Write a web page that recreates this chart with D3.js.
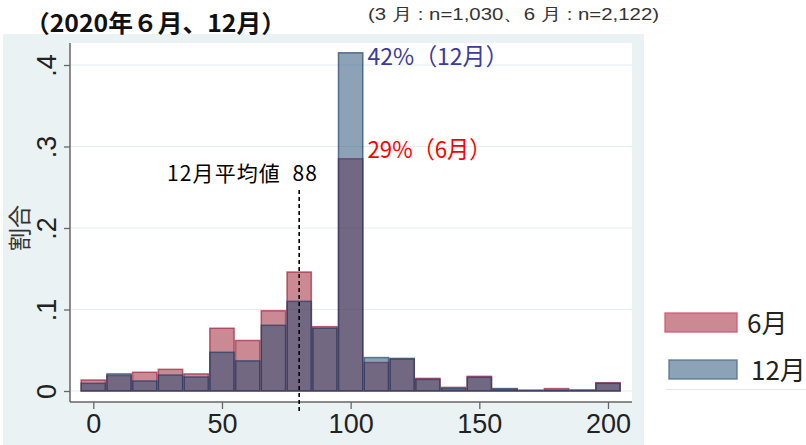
<!DOCTYPE html>
<html><head><meta charset="utf-8">
<script src="https://cdn.jsdelivr.net/npm/d3@7"></script>
<style>body{margin:0;background:#fff}svg{display:block}</style>
</head><body>
<svg id="c" width="806" height="445"></svg>
<script>
const binCenters = [0,10,20,30,40,50,60,70,80,90,100,110,120,130,140,150,160,170,180,190,200];
const binWidth = 10;
const june = [0.0135,0.019,0.023,0.0266,0.021,0.077,0.062,0.0985,0.146,0.079,0.285,0.035,0.039,0.0155,0.0045,0.018,0.002,0.0005,0.003,0.0008,0.0102];
const december = [0.0094,0.021,0.0123,0.0196,0.0172,0.0475,0.037,0.0806,0.11,0.077,0.415,0.041,0.040,0.0143,0.003,0.0168,0.003,0.001,0.001,0.0012,0.0094];
const xTicks = [0,50,100,150,200];
const yTicks = [0,0.1,0.2,0.3,0.4];
const yTickLabels = ["0",".1",".2",".3",".4"];
const seriesNames = ["6月","12月"];
const meanValue = 80;
const meanLabel = "12月平均値  88";
const peakLabels = ["42%（12月）","29%（6月）"];
const title = "（2020年６月、12月）";
const subtitle = "(3 月 : n=1,030、6 月 : n=2,122)";
const yTitle = "割合";

const svg = d3.select("#c");
const x = d3.scaleLinear().domain([0,200]).range([93.3,608]);
const y = d3.scaleLinear().domain([0,0.4]).range([391,65]);
const redFill = "rgba(150,20,40,0.5)", redStroke = "rgba(150,15,45,0.6)";
const blueFill = "rgba(26,71,111,0.5)", blueStroke = "rgba(26,60,100,0.65)";
const cjk = "'Noto Sans CJK JP','Noto Sans',sans-serif";
const lat = "'Liberation Sans',Arial,sans-serif";

// panel background
svg.append("rect").attr("x",3).attr("y",34).attr("width",641).attr("height",411).attr("fill","#eaf2f4");
// plot region
svg.append("rect").attr("x",70).attr("y",43).attr("width",562).attr("height",359).attr("fill","#fff");

// grid
svg.append("g").selectAll("line").data(yTicks).join("line")
  .attr("x1",71).attr("x2",632).attr("y1",d=>y(d)).attr("y2",d=>y(d))
  .attr("stroke","#e3eef2").attr("stroke-width",1.2);

// bars
function drawBars(vals, fill, stroke){
  svg.append("g").selectAll("rect").data(binCenters).join("rect")
    .attr("x",(d)=>x(d-binWidth/2)+0.7)
    .attr("width",(d)=>x(d+binWidth/2)-x(d-binWidth/2)-1.4)
    .attr("y",(d,i)=>y(vals[i]))
    .attr("height",(d,i)=>y(0)-y(vals[i]))
    .attr("fill",fill).attr("stroke",stroke).attr("stroke-width",1.5);
}
drawBars(june, redFill, redStroke);
drawBars(december, blueFill, blueStroke);

// axes
const yAxis = d3.axisLeft(y).tickValues(yTicks).tickSize(6).tickFormat((d,i)=>yTickLabels[i]);
const gy = svg.append("g").attr("transform","translate(70,0)").call(yAxis);
gy.select(".domain").attr("d","M0,43V402").attr("stroke","#666").attr("stroke-width",1.5);
gy.selectAll(".tick line").attr("stroke","#666").attr("stroke-width",1.3);
gy.selectAll(".tick text")
  .attr("transform","rotate(-90)").attr("x",0).attr("y",-14).attr("dy",0)
  .attr("text-anchor","middle").attr("font-family",lat).attr("font-size",27).attr("fill","#222");

const xAxis = d3.axisBottom(x).tickValues(xTicks).tickSize(7).tickFormat(d3.format("d"));
const gx = svg.append("g").attr("transform","translate(0,402)").call(xAxis);
gx.select(".domain").attr("d","M70,0H632").attr("stroke","#666").attr("stroke-width",1.5);
gx.selectAll(".tick line").attr("stroke","#666").attr("stroke-width",1.3);
gx.selectAll(".tick text").attr("y",12).attr("dy","0.71em")
  .attr("font-family",lat).attr("font-size",27).attr("fill","#222");

// y title
svg.append("text").attr("transform","translate(28,228) rotate(-90)")
  .attr("text-anchor","middle").attr("font-family",cjk).attr("font-size",23).attr("fill","#333").text(yTitle);

// mean line
svg.append("line").attr("x1",x(meanValue)).attr("x2",x(meanValue)).attr("y1",190).attr("y2",413)
  .attr("stroke","#000").attr("stroke-width",1.6).attr("stroke-dasharray","4,3");
svg.append("text").attr("x",167).attr("y",181)
  .attr("font-family",cjk).attr("font-size",21).attr("fill","#000")
  .attr("textLength",150).attr("lengthAdjust","spacing")
  .attr("xml:space","preserve").style("white-space","pre").text(meanLabel);

// peak labels
const peakX = x(binCenters[10]+binWidth/2)+4;
svg.append("text").attr("x",peakX).attr("y",y(december[10])+12).attr("font-family",cjk)
  .attr("font-size",23.5).attr("fill","#3b3ba0").attr("textLength",141).attr("lengthAdjust","spacingAndGlyphs").text(peakLabels[0]);
svg.append("text").attr("x",peakX).attr("y",y(june[10])-1).attr("font-family",cjk)
  .attr("font-size",23.5).attr("fill","#ff0000").attr("textLength",124).attr("lengthAdjust","spacingAndGlyphs").text(peakLabels[1]);

// titles
svg.append("text").attr("x",25).attr("y",32).attr("font-family",cjk).attr("font-weight","bold")
  .attr("font-size",24).attr("fill","#111").attr("textLength",261).attr("lengthAdjust","spacingAndGlyphs").text(title);
svg.append("text").attr("x",368).attr("y",20).attr("font-family","'Liberation Sans Narrow','Liberation Sans',sans-serif")
  .attr("font-size",17).attr("fill","#333").attr("textLength",291).attr("lengthAdjust","spacingAndGlyphs").text(subtitle);

// legend
const legY = [313,360];
const legFill = [redFill, blueFill];
const legStroke = ["rgba(215,80,110,0.8)","rgba(80,110,145,0.8)"];
const legX = [665,669];
seriesNames.forEach((n,i)=>{
  svg.append("rect").attr("x",legX[i]).attr("y",legY[i]).attr("width",737-legX[i]).attr("height",19)
    .attr("fill",legFill[i]).attr("stroke",legStroke[i]).attr("stroke-width",1.5);
  svg.append("text").attr("x",i?751:747).attr("y",legY[i]+20).attr("font-family",cjk)
    .attr("font-size",26).attr("fill","#222").text(n);
});
svg.append("line").attr("x1",666).attr("x2",806).attr("y1",389.5).attr("y2",389.5).attr("stroke","#e6e6e6");
</script>
</body></html>
